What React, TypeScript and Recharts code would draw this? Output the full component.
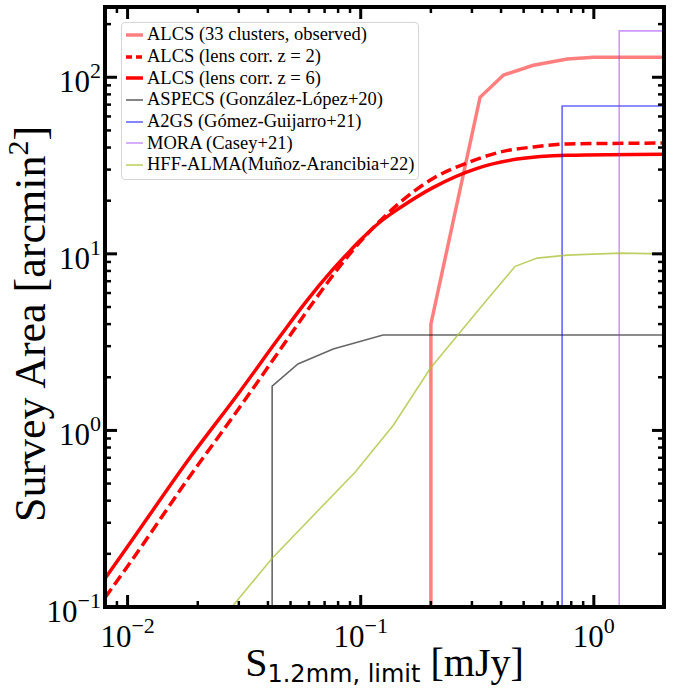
import React from "react"
import { LineChart, Line, XAxis, YAxis, Legend, Label } from "recharts"

const SERIF = "'Liberation Serif', 'Times New Roman', serif"
const SANS = "'DejaVu Sans', sans-serif"

// flux limit [mJy] vs. survey area [arcmin^2]
const alcsObsFlux = [0.2, 0.2, 0.325, 0.41, 0.55, 0.77, 1.0, 2.0]
const alcsObsArea = [0.1, 4.0, 77, 103, 117, 127, 130, 130]

const alcsZ2Flux = [0.008, 0.01, 0.0185, 0.03, 0.045, 0.0637, 0.08, 0.1, 0.12, 0.148, 0.205, 0.286, 0.396, 0.549, 0.769, 2.0]
const alcsZ2Area = [0.113, 0.17, 0.55, 1.33, 2.85, 5.5, 8.26, 11.8, 15.2, 19.6, 26.8, 32.7, 37.7, 40.3, 41.9, 42.4]

const alcsZ6Flux = [0.008, 0.01, 0.0185, 0.03, 0.045, 0.059, 0.075, 0.09, 0.1, 0.12, 0.148, 0.205, 0.316, 0.469, 0.769, 2.0]
const alcsZ6Area = [0.145, 0.22, 0.7, 1.63, 3.4, 5.47, 8.0, 10.4, 12.0, 15.0, 18.3, 23.8, 30.5, 34.4, 36.2, 36.7]

const aspecsFlux = [0.0417, 0.0417, 0.0538, 0.0762, 0.1247, 2.0]
const aspecsArea = [0.1, 1.78, 2.38, 2.89, 3.47, 3.47]

const a2gsFlux = [0.731, 0.731, 2.0]
const a2gsArea = [0.1, 68.7, 68.7]

const moraFlux = [1.285, 1.285, 2.0]
const moraArea = [0.1, 183, 183]

const hffFlux = [0.028, 0.0417, 0.0946, 0.138, 0.199, 0.348, 0.46, 0.571, 0.77, 1.3, 2.0]
const hffArea = [0.1, 0.189, 0.58, 1.07, 2.25, 5.5, 8.5, 9.46, 9.84, 10.1, 10.0]

const xTicks = [0.008, 0.009, 0.01, 0.02, 0.03, 0.04, 0.05, 0.06, 0.07, 0.08, 0.09, 0.1, 0.2, 0.3, 0.4, 0.5, 0.6, 0.7, 0.8, 0.9, 1, 2]
const yTicks = [0.1, 0.2, 0.3, 0.4, 0.5, 0.6, 0.7, 0.8, 0.9, 1, 2, 3, 4, 5, 6, 7, 8, 9, 10, 20, 30, 40, 50, 60, 70, 80, 90, 100, 200]

const zip = (xs: number[], ys: number[]) => xs.map((x, i) => ({ x, y: ys[i] }))

const series = [
  { key: "obs", name: "ALCS (33 clusters, observed)", data: zip(alcsObsFlux, alcsObsArea), color: "#ff0000", opacity: 0.5, width: 3.5, dash: undefined, curve: "linear" },
  { key: "z2", name: "ALCS (lens corr. z = 2)", data: zip(alcsZ2Flux, alcsZ2Area), color: "#ff0000", opacity: 1, width: 3.5, dash: "11 5", curve: "monotone" },
  { key: "z6", name: "ALCS (lens corr. z = 6)", data: zip(alcsZ6Flux, alcsZ6Area), color: "#ff0000", opacity: 1, width: 3.5, dash: undefined, curve: "monotone" },
  { key: "aspecs", name: "ASPECS (González-López+20)", data: zip(aspecsFlux, aspecsArea), color: "#000000", opacity: 0.6, width: 1.6, dash: undefined, curve: "linear" },
  { key: "a2gs", name: "A2GS (Gómez-Guijarro+21)", data: zip(a2gsFlux, a2gsArea), color: "#0000ff", opacity: 0.6, width: 1.6, dash: undefined, curve: "linear" },
  { key: "mora", name: "MORA (Casey+21)", data: zip(moraFlux, moraArea), color: "#9933ff", opacity: 0.5, width: 1.6, dash: undefined, curve: "linear" },
  { key: "hff", name: "HFF-ALMA(Muñoz-Arancibia+22)", data: zip(hffFlux, hffArea), color: "#a8c030", opacity: 0.75, width: 1.6, dash: undefined, curve: "linear" },
]

const isMajor = (v: number) => Math.abs(Math.log10(v) - Math.round(Math.log10(v))) < 1e-6
const expText = (v: number) => {
  const e = Math.round(Math.log10(v))
  return e < 0 ? `\u2212${-e}` : `${e}`
}

const tickStroke = (major: boolean) => (major ? 3 : 2.5)
const tickLen = (major: boolean) => (major ? 12 : 6)

const BottomTick = (props: any) => {
  const { x, y, payload } = props
  const major = isMajor(payload.value)
  return (
    <g>
      <line x1={x} x2={x} y1={y} y2={y - tickLen(major)} stroke="#000" strokeWidth={tickStroke(major)} />
      {major && (
        <text x={x} y={y + 40} textAnchor="middle" fontFamily={SERIF} fontSize={31} fill="#000">
          10<tspan dy={-14} fontSize={22}>{expText(payload.value)}</tspan>
        </text>
      )}
    </g>
  )
}

const TopTick = (props: any) => {
  const { x, y, payload } = props
  const major = isMajor(payload.value)
  return <line x1={x} x2={x} y1={y} y2={y + tickLen(major)} stroke="#000" strokeWidth={tickStroke(major)} />
}

const LeftTick = (props: any) => {
  const { x, y, payload } = props
  const major = isMajor(payload.value)
  return (
    <g>
      <line x1={x} x2={x + tickLen(major)} y1={y} y2={y} stroke="#000" strokeWidth={tickStroke(major)} />
      {major && (
        <text x={x - 4} y={y + 15} textAnchor="end" fontFamily={SERIF} fontSize={31} fill="#000">
          10<tspan dy={-14} fontSize={22}>{expText(payload.value)}</tspan>
        </text>
      )}
    </g>
  )
}

const RightTick = (props: any) => {
  const { x, y, payload } = props
  const major = isMajor(payload.value)
  return <line x1={x} x2={x - tickLen(major)} y1={y} y2={y} stroke="#000" strokeWidth={tickStroke(major)} />
}

const XTitle = (props: any) => {
  const vb = props.viewBox
  return (
    <text x={vb.x + vb.width / 2} y={vb.y + 69} textAnchor="middle" fontFamily={SERIF} fontSize={40} fill="#000">
      S
      <tspan fontFamily={SANS} fontSize={24} dy={6}>1.2mm, limit</tspan>
      <tspan dy={-6}>{"\u00a0[mJy]"}</tspan>
    </text>
  )
}

const YTitle = (props: any) => {
  const vb = props.viewBox
  const cx = vb.x - 59
  const cy = vb.y + vb.height / 2 + 17
  return (
    <text transform={`translate(${cx},${cy}) rotate(-90)`} textAnchor="middle" fontFamily={SERIF} fontSize={44} fill="#000">
      Survey Area [arcmin
      <tspan dy={-17} fontSize={30}>2</tspan>
      <tspan dy={17}>]</tspan>
    </text>
  )
}

const LegendBox = () => (
  <div
    style={{
      border: "1px solid #d6d6d6",
      borderRadius: 4,
      background: "rgba(255,255,255,0.8)",
      padding: "1px 4px 3px 3px",
      fontFamily: SERIF,
      fontSize: 18.5,
      color: "#000",
      whiteSpace: "nowrap",
    }}
  >
    {series.map((s) => (
      <div key={s.key} style={{ display: "flex", alignItems: "center", height: 21.7 }}>
        <svg width={22} height={10} style={{ flex: "none" }}>
          <line
            x1={1}
            x2={18}
            y1={5}
            y2={5}
            stroke={s.color}
            strokeOpacity={s.opacity}
            strokeWidth={s.width}
            strokeDasharray={s.dash ? "6 4" : undefined}
          />
        </svg>
        <span>{s.name}</span>
      </div>
    ))}
  </div>
)

export default function App() {
  const axisLine = { stroke: "#000", strokeWidth: 4, strokeLinecap: "square" as const }
  return (
    <div style={{ position: "absolute", left: 0, top: 0, background: "#fff" }}>
      <LineChart width={694} height={690} margin={{ top: 6, right: 29, bottom: 82, left: 104 }}>
        <XAxis
          dataKey="x"
          type="number"
          scale="log"
          domain={[0.008, 2]}
          allowDataOverflow
          ticks={xTicks}
          interval={0}
          height={1}
          tickSize={0}
          tickMargin={0}
          tickLine={false}
          axisLine={axisLine}
          tick={<BottomTick />}
        >
          <Label content={<XTitle />} />
        </XAxis>
        <XAxis
          xAxisId="top"
          orientation="top"
          dataKey="x"
          type="number"
          scale="log"
          domain={[0.008, 2]}
          allowDataOverflow
          ticks={xTicks}
          interval={0}
          height={1}
          tickSize={0}
          tickMargin={0}
          tickLine={false}
          axisLine={axisLine}
          tick={<TopTick />}
        />
        <YAxis
          type="number"
          scale="log"
          domain={[0.1, 250]}
          allowDataOverflow
          ticks={yTicks}
          interval={0}
          width={1}
          tickSize={0}
          tickMargin={0}
          tickLine={false}
          axisLine={axisLine}
          tick={<LeftTick />}
        >
          <Label content={<YTitle />} />
        </YAxis>
        <YAxis
          yAxisId="right"
          orientation="right"
          type="number"
          scale="log"
          domain={[0.1, 250]}
          allowDataOverflow
          ticks={yTicks}
          interval={0}
          width={1}
          tickSize={0}
          tickMargin={0}
          tickLine={false}
          axisLine={axisLine}
          tick={<RightTick />}
        />
        {series.map((s) => (
          <Line
            key={s.key}
            data={s.data}
            dataKey="y"
            name={s.name}
            type={s.curve as any}
            stroke={s.color}
            strokeOpacity={s.opacity}
            strokeWidth={s.width}
            strokeDasharray={s.dash}
            dot={false}
            activeDot={false}
            isAnimationActive={false}
          />
        ))}
        <Legend
          layout="vertical"
          align="center"
          verticalAlign="middle"
          content={<LegendBox />}
          wrapperStyle={{ left: 121, top: 22, width: "auto" }}
        />
      </LineChart>
    </div>
  )
}
